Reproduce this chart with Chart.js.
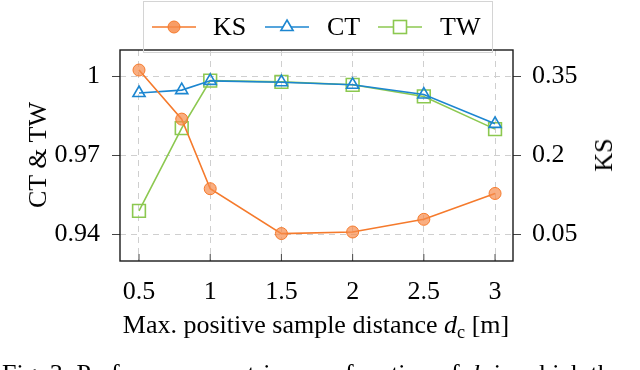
<!DOCTYPE html>
<html>
<head>
<meta charset="utf-8">
<script src="https://cdn.jsdelivr.net/npm/chart.js@4.4.1/dist/chart.umd.min.js"></script>
<style>
  html, body { margin: 0; padding: 0; background: #fff; }
  body { width: 640px; height: 370px; overflow: hidden; position: relative; font-family: "Liberation Serif", serif; color: #000; }
  #wrap { position: absolute; left: 0; top: 0; width: 640px; height: 370px; }
  .legend { position: absolute; left: 143px; top: 1px; width: 348px; height: 50px; border: 1px solid #d4d4d4; }
  .legend canvas { position: absolute; top: 15px; }
  .legend span { position: absolute; top: 8px; font-size: 26px; line-height: 34px; }
  .ytitle { position: absolute; font-size: 26px; white-space: nowrap; transform: translate(-50%, -50%) rotate(-90deg); }
  .xtitle { position: absolute; left: 316px; top: 310px; transform: translateX(-50%); font-size: 26px; white-space: nowrap; line-height: 30px; }
  .caption { position: absolute; left: 2px; top: 361px; font-size: 26px; white-space: nowrap; line-height: 26px; }
  sub { font-size: 70%; vertical-align: -5px; line-height: 0; }
</style>
</head>
<body>
<div id="wrap"><canvas id="chart" width="640" height="370"></canvas></div>

<div class="legend">
  <canvas id="lgKS" width="44" height="20" style="left:8px"></canvas><span style="left:69px">KS</span>
  <canvas id="lgCT" width="44" height="20" style="left:121px"></canvas><span style="left:183px">CT</span>
  <canvas id="lgTW" width="44" height="20" style="left:234px"></canvas><span style="left:296px">TW</span>
</div>
<div class="ytitle" style="left:38px; top:155px">CT &amp; TW</div>
<div class="ytitle" style="left:604px; top:155px">KS</div>
<div class="xtitle">Max. positive sample distance <i>d</i><sub>c</sub> [m]</div>
<div class="caption">Fig. 3: Performance metrics as a function of <i>d</i><sub>c</sub> in which the</div>

<script>
const distances = [0.5, 0.8, 1, 1.5, 2, 2.5, 3];
const ksValues = [0.362, 0.269, 0.137, 0.052, 0.055, 0.079, 0.128];
const ctValues = [0.9937, 0.9948, 0.9983, 0.9978, 0.9968, 0.9931, 0.9820];
const twValues = [0.9490, 0.9804, 0.9984, 0.9979, 0.9968, 0.9924, 0.9800];

const xTicks = [0.5, 1, 1.5, 2, 2.5, 3];
const leftTicks = [0.94, 0.97, 1];
const rightTicks = [0.05, 0.2, 0.35];

const ORANGE = '#f57a2c';
const BLUE = '#1c86d0';
const GREEN = '#8cc850';
const FONT = { family: 'Liberation Serif', size: 26 };

const pts = vals => vals.map((v, i) => ({ x: distances[i], y: v }));

// frame around plot + short inner ticks on the bottom axis
const frame = {
  id: 'frame',
  beforeDatasetsDraw(chart) {
    const { ctx, chartArea: a } = chart;
    const xs = chart.scales.x;
    ctx.save();
    ctx.strokeStyle = '#444';
    ctx.lineWidth = 1;
    xTicks.forEach(t => {
      const px = xs.getPixelForValue(t);
      ctx.beginPath();
      ctx.moveTo(px, a.bottom);
      ctx.lineTo(px, a.bottom - 7);
      ctx.stroke();
    });
    ctx.strokeStyle = '#1a1a1a';
    ctx.lineWidth = 1.4;
    ctx.strokeRect(a.left, a.top, a.right - a.left, a.bottom - a.top);
    ctx.restore();
  }
};

const gridStyle = { color: '#cfcfcf', lineWidth: 1 };

new Chart(document.getElementById('chart'), {
  type: 'line',
  data: {
    datasets: [
      {
        label: 'KS', data: pts(ksValues), yAxisID: 'y1',
        borderColor: ORANGE, borderWidth: 1.6,
        pointStyle: 'circle', pointRadius: 6,
        pointBackgroundColor: 'rgba(247,140,75,0.7)', pointBorderColor: ORANGE, pointBorderWidth: 1
      },
      {
        label: 'CT', data: pts(ctValues), yAxisID: 'y',
        borderColor: BLUE, borderWidth: 1.6,
        pointStyle: 'triangle', pointRadius: 7,
        pointBackgroundColor: 'rgba(255,255,255,0)', pointBorderColor: BLUE, pointBorderWidth: 1.6
      },
      {
        label: 'TW', data: pts(twValues), yAxisID: 'y',
        borderColor: GREEN, borderWidth: 1.6,
        pointStyle: 'rect', pointRadius: 9,
        pointBackgroundColor: 'rgba(255,255,255,0)', pointBorderColor: GREEN, pointBorderWidth: 1.6
      }
    ]
  },
  options: {
    responsive: false,
    animation: false,
    layout: { padding: { top: 50, left: 0, right: 0, bottom: 0 } },
    plugins: { legend: { display: false }, tooltip: { enabled: false } },
    scales: {
      x: {
        type: 'linear', min: 0.3666, max: 3.126,
        afterBuildTicks: s => { s.ticks = xTicks.map(v => ({ value: v })); },
        afterFit: s => { s.height = 109; },
        grid: { ...gridStyle, drawTicks: false },
        border: { display: false, dash: [6, 5] },
        ticks: { font: FONT, color: '#000', padding: 16, maxRotation: 0, callback: v => String(v) }
      },
      y: {
        position: 'left', min: 0.93, max: 1.01,
        afterBuildTicks: s => { s.ticks = leftTicks.map(v => ({ value: v })); },
        afterFit: s => { s.width = 120; },
        grid: { ...gridStyle, drawTicks: true, tickLength: 8, tickColor: '#444', tickWidth: 1 },
        border: { display: false, dash: [6, 5] },
        ticks: { font: FONT, color: '#000', padding: 12, callback: v => String(v) }
      },
      y1: {
        position: 'right', min: 0, max: 0.4,
        afterBuildTicks: s => { s.ticks = rightTicks.map(v => ({ value: v })); },
        afterFit: s => { s.width = 127; },
        grid: { drawOnChartArea: false, drawTicks: true, tickLength: 8, tickColor: '#444', tickWidth: 1 },
        border: { display: false },
        ticks: { font: FONT, color: '#000', padding: 11, callback: v => String(v) }
      }
    }
  },
  plugins: [frame]
});

// legend samples: line with marker
function sample(id, color, kind) {
  const c = document.getElementById(id).getContext('2d');
  c.strokeStyle = color;
  c.lineWidth = 1.6;
  c.beginPath(); c.moveTo(0, 10); c.lineTo(44, 10); c.stroke();
  if (kind === 'circle') {
    c.fillStyle = 'rgba(247,140,75,0.85)';
    c.lineWidth = 1;
    c.beginPath(); c.arc(22, 10, 6, 0, Math.PI * 2); c.fill(); c.stroke();
  } else if (kind === 'triangle') {
    c.fillStyle = '#fff';
    c.beginPath();
    c.moveTo(22, 3); c.lineTo(28.1, 13.5); c.lineTo(15.9, 13.5); c.closePath();
    c.fill(); c.stroke();
  } else {
    c.fillStyle = '#fff';
    c.fillRect(15.5, 3.5, 13, 13); c.strokeRect(15.5, 3.5, 13, 13);
  }
}
sample('lgKS', ORANGE, 'circle');
sample('lgCT', BLUE, 'triangle');
sample('lgTW', GREEN, 'rect');
</script>
</body>
</html>
